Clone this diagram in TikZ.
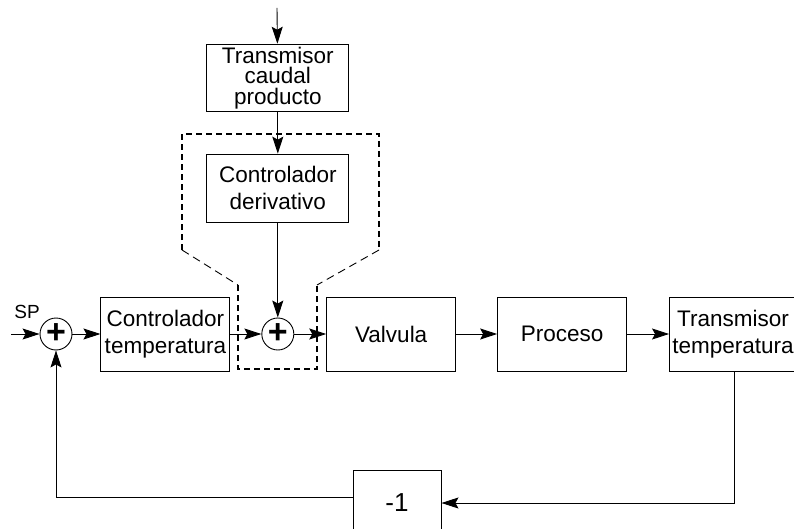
\documentclass[tikz,border=0pt]{standalone}
\usepackage{fontspec}
\setmainfont{Liberation Sans}
\usepackage{tikz}
\usetikzlibrary{positioning,arrows.meta,calc}
\tikzset{
block/.style={
draw,
line width=0.9pt,
minimum width=129pt,
minimum height=74pt,
inner sep=2pt,
align=center,
font=\fontsize{22.5}{27}\selectfont
},
sumnode/.style={
draw,
circle,
line width=0.9pt,
minimum size=32pt,
inner sep=0pt,
font=\fontsize{34}{34}\selectfont\bfseries
},
arrow/.style={
-{Stealth[length=17pt,width=11pt,inset=3pt]},
line width=0.9pt
},
grpline/.style={
line width=2pt,
dash pattern=on 6pt off 4pt
},
grpdiag/.style={
line width=0.9pt,
dash pattern=on 8pt off 5pt
}
}

\begin{document}
\begin{tikzpicture}[x=1pt,y=-1pt,node distance=30pt]
\useasboundingbox (0,0) rectangle (794,529);

\node[sumnode](s1) at (56,334){+};
\node[block,right=28pt of s1](ct){Controlador\\temperatura};
\node[sumnode,right=31pt of ct](s2){+};
\node[block,right=32pt of s2](valve){Valvula};
\node[block,right=41pt of valve](proc){Proceso};
\node[block,right=42pt of proc,minimum width=127pt](tt){Transmisor\\temperatura};
\node[block,above=95pt of s2,minimum width=142pt,minimum height=68pt](deriv){Controlador\\derivativo};
\node[block,above=42pt of deriv,minimum width=142pt,minimum height=67pt,inner sep=0pt,
font=\fontsize{22.5}{20.5}\selectfont](tc){Transmisor\\caudal\\producto};
\node[block,minimum width=88pt,minimum height=66pt,font=\fontsize{26}{26}\selectfont](neg) at (397,503){-1};
\node[font=\fontsize{19}{19}\selectfont](splabel) at (27,312){SP};

\coordinate (in) at (11,334);
\coordinate (top) at (277,8);

% main path
\draw[arrow](in)--(s1);
\draw[arrow](s1)--(ct);
\draw[arrow](ct)--(s2);
\draw[arrow](s2)--(valve);
\draw[arrow](valve)--(proc);
\draw[arrow](proc)--(tt);

% feedforward branch
\draw[arrow](top)--(tc);
\draw[arrow](tc)--(deriv);
\draw[arrow](deriv)--(s2);

% feedback
\draw[arrow]([xshift=1pt]tt.south)|-(neg.east);
\draw[arrow]([yshift=6pt]neg.west)-|(s1.south);

% dashed group
\draw[grpline](238,285)--(238,369)--(317,369)--(317,285);
\draw[grpline](182,250)--(182,134)--(379,134)--(379,250);
\draw[grpdiag](182,250)--(238,285);
\draw[grpdiag](379,250)--(317,285);
\end{tikzpicture}
\end{document}
